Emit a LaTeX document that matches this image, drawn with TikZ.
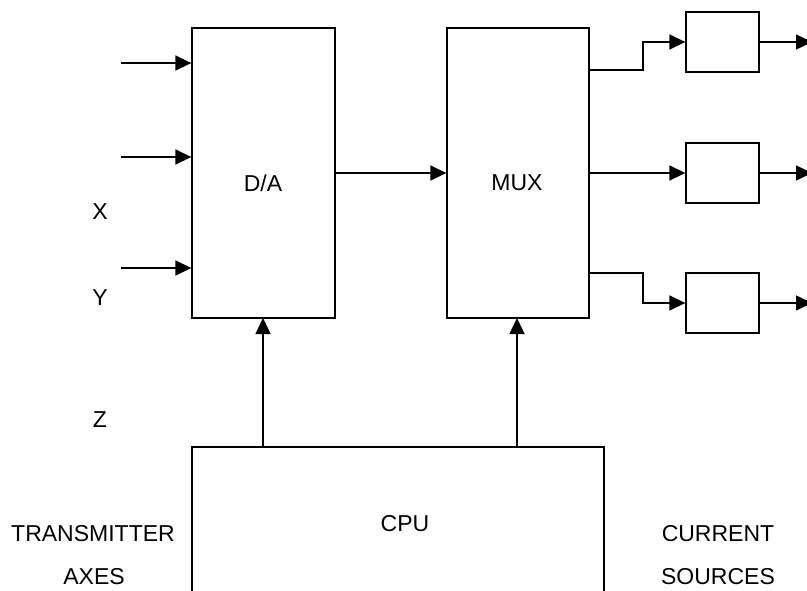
\documentclass[tikz,border=0pt]{standalone}
\usepackage{fontspec}
\setmainfont{Liberation Sans}
\usetikzlibrary{arrows.meta}
\begin{document}
\begin{tikzpicture}[x=1pt,y=-1pt,
 box/.style={draw,line width=1.3pt,inner sep=0pt},
 arr/.style={line width=1.5pt,-{Triangle[length=16pt,width=15pt]}},
 lbl/.style={font=\fontsize{23}{26}\selectfont,inner sep=0pt}]
\useasboundingbox (0,0) rectangle (807,590);
\clip (0,0) rectangle (807,590);
% main blocks
\node[box,minimum width=143pt,minimum height=290pt] (da) at (263.5,173) {};
\node[box,minimum width=142pt,minimum height=290pt] (mux) at (518,173) {};
\node[box,minimum width=412pt,minimum height=186pt] (cpu) at (398,540) {};
\node[lbl] (datxt) at (263,183) {D/A};
\node[lbl] (muxtxt) at (517,183) {MUX};
\node[lbl] (cputxt) at (405,524) {CPU};
% current sources
\node[box,minimum width=73pt,minimum height=60pt] (b1) at (722.5,42) {};
\node[box,minimum width=73pt,minimum height=60pt] (b2) at (722.5,173) {};
\node[box,minimum width=73pt,minimum height=60pt] (b3) at (722.5,303) {};
% inputs
\coordinate (i1) at (121,63);
\coordinate (i2) at (121,157);
\coordinate (i3) at (121,268);
\draw[arr] (i1) -- (da.west |- i1);
\draw[arr] (i2) -- (da.west |- i2);
\draw[arr] (i3) -- (da.west |- i3);
% D/A to MUX
\draw[arr] (da.east |- 0,173) -- (mux.west |- 0,173);
% CPU to blocks
\draw[arr] (263,447) -- (263,318);
\draw[arr] (517,447) -- (517,318);
% MUX to current sources
\draw[arr] (589,70) -- (643,70) -- (643,42) -- (b1.west);
\draw[arr] (589,173) -- (b2.west);
\draw[arr] (589,273) -- (643,273) -- (643,303) -- (b3.west);
% outputs
\coordinate (o1) at (812,42);
\coordinate (o2) at (812,173);
\coordinate (o3) at (812,303);
\draw[arr] (b1.east) -- (o1);
\draw[arr] (b2.east) -- (o2);
\draw[arr] (b3.east) -- (o3);
% labels
\node[lbl] (lx) at (100,212) {X};
\node[lbl] (ly) at (100,298) {Y};
\node[lbl] (lz) at (100,420) {Z};
\node[lbl] (lt) at (93,534) {TRANSMITTER};
\node[lbl] (la) at (94,577) {AXES};
\node[lbl] (lc) at (718,534) {CURRENT};
\node[lbl] (ls) at (718,577) {SOURCES};
\end{tikzpicture}
\end{document}
